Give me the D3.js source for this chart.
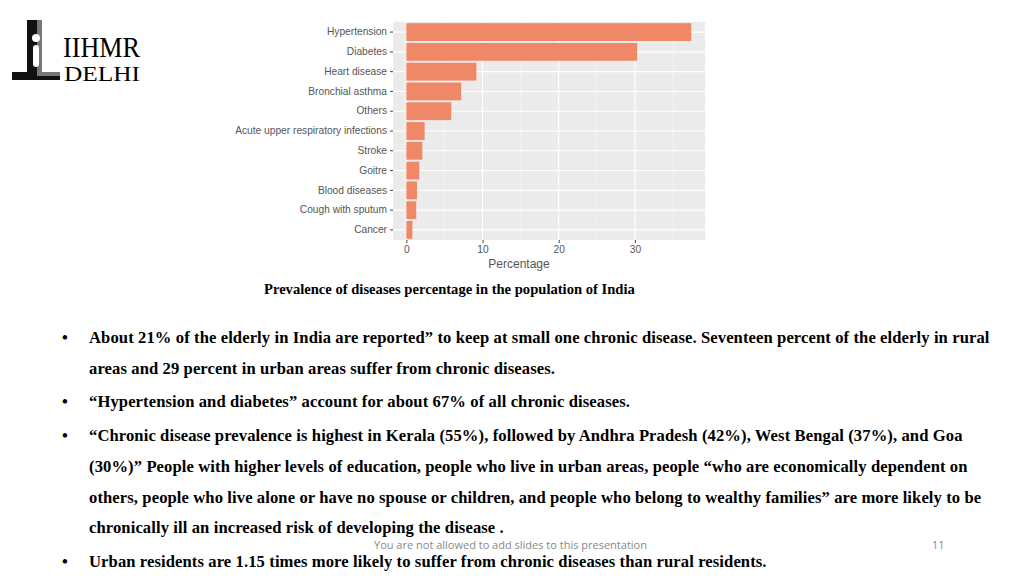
<!DOCTYPE html>
<html><head><meta charset="utf-8">
<script src="https://cdn.jsdelivr.net/npm/d3@7"></script>
<style>
body{margin:0;background:#fff;width:1024px;height:576px;overflow:hidden;position:relative;font-family:"Liberation Serif",serif}
.cap{position:absolute;left:264px;top:281px;font-weight:bold;font-size:14.6px}
ul{position:absolute;left:56px;top:323px;margin:0;padding:0;list-style:none;width:950px;font-weight:bold;font-size:16.6px;line-height:30.7px;letter-spacing:0.1px}
li{position:relative;padding-left:33px;margin-bottom:3px}
li:before{content:"•";position:absolute;left:6px}
li.last{line-height:18px;margin-top:9px}
.foot{position:absolute;left:374px;top:538px;font-family:"Open Sans";font-size:11px;line-height:13px;color:#888}
.num{position:absolute;left:932px;top:538px;font-family:"Open Sans";font-size:11px;line-height:13px;color:#888}
</style></head><body>
<svg id="logo" width="160" height="90" style="position:absolute;left:0;top:10px"></svg>
<svg id="chart" width="1024" height="280" style="position:absolute;left:0;top:0"></svg>
<div class="cap">Prevalence of diseases percentage in the population of India</div>
<ul>
<li>About 21% of the elderly in India are reported” to keep at small one chronic disease. Seventeen percent of the elderly in rural areas and 29 percent in urban areas suffer from chronic diseases.</li>
<li>“Hypertension and diabetes” account for about 67% of all chronic diseases.</li>
<li>“Chronic disease prevalence is highest in Kerala (55%), followed by Andhra Pradesh (42%), West Bengal (37%), and Goa (30%)” People with higher levels of education, people who live in urban areas, people “who are economically dependent on others, people who live alone or have no spouse or children, and people who belong to wealthy families” are more likely to be chronically ill an increased risk of developing the disease .</li>
<li class="last">Urban residents are 1.15 times more likely to suffer from chronic diseases than rural residents.</li>
</ul>
<div class="foot">You are not allowed to add slides to this presentation</div>
<div class="num">11</div>
<script>
const diseases = ["Hypertension","Diabetes","Heart disease","Bronchial asthma","Others","Acute upper respiratory infections","Stroke","Goitre","Blood diseases","Cough with sputum","Cancer"];
const prevalence = [37.4,30.3,9.2,7.2,5.9,2.4,2.1,1.7,1.4,1.3,0.8];
const xTicks = [0,10,20,30];

const svg = d3.select("#chart");
const pLeft = 393, pRight = 705, pTop = 22, pBottom = 240;
const x = d3.scaleLinear().domain([-1.75, 39.2]).range([pLeft, pRight]);
const y = d3.scaleBand().domain(diseases).range([pTop, pBottom]).paddingInner(0.1).paddingOuter(0.06);

svg.append("rect").attr("x", pLeft).attr("y", pTop).attr("width", pRight - pLeft).attr("height", pBottom - pTop).attr("fill", "#ebebeb");
[5,15,25,35].forEach(v => svg.append("line").attr("x1", x(v)).attr("x2", x(v)).attr("y1", pTop).attr("y2", pBottom).attr("stroke", "#f5f5f5").attr("stroke-width", 0.6));
xTicks.forEach(v => svg.append("line").attr("x1", x(v)).attr("x2", x(v)).attr("y1", pTop).attr("y2", pBottom).attr("stroke", "#fff").attr("stroke-width", 1.1));
diseases.forEach(d => svg.append("line").attr("x1", pLeft).attr("x2", pRight).attr("y1", y(d) + y.bandwidth() / 2).attr("y2", y(d) + y.bandwidth() / 2).attr("stroke", "#fff").attr("stroke-width", 1.1));

svg.selectAll(".bar").data(diseases).join("rect").attr("class", "bar")
  .attr("x", x(0)).attr("y", d => y(d))
  .attr("width", (d, i) => x(prevalence[i]) - x(0)).attr("height", y.bandwidth())
  .attr("fill", "#ee8866");

const ya = svg.append("g").attr("transform", `translate(${pLeft},0)`).call(d3.axisLeft(y).tickSize(3).tickPadding(3));
ya.select(".domain").remove();
ya.selectAll("text").attr("font-family", "Liberation Sans").attr("font-size", 10.2).attr("fill", "#555");
ya.selectAll("line").attr("stroke", "#444");
const xa = svg.append("g").attr("transform", `translate(0,${pBottom})`).call(d3.axisBottom(x).tickValues(xTicks).tickSize(3).tickPadding(3));
xa.select(".domain").remove();
xa.selectAll("text").attr("font-family", "Liberation Sans").attr("font-size", 10.2).attr("fill", "#555");
xa.selectAll("line").attr("stroke", "#444");
svg.append("text").attr("x", (pLeft + pRight) / 2 - 30).attr("y", 268).attr("text-anchor", "middle")
  .attr("font-family", "Liberation Sans").attr("font-size", 12).attr("fill", "#555").text("Percentage");

const lg = d3.select("#logo");
lg.append("path").attr("d", "M27 10 H37 V62 H60 V70 H12 V62 H27 Z").attr("fill", "#111");
lg.append("path").attr("d", "M37 10 H42 V62 H60 V66 H37 Z").attr("fill", "#777");
lg.append("ellipse").attr("cx", 36).attr("cy", 28).attr("rx", 4).attr("ry", 4).attr("fill", "#fff");
lg.append("rect").attr("x", 33).attr("y", 35).attr("width", 6).attr("height", 22).attr("rx", 3).attr("fill", "#fff");
lg.append("text").attr("x", 63).attr("y", 47).attr("font-family", "Liberation Serif").attr("font-size", 30).attr("textLength", 77).attr("lengthAdjust", "spacingAndGlyphs").text("IIHMR");
lg.append("text").attr("x", 64).attr("y", 71).attr("font-family", "Liberation Serif").attr("font-size", 22).attr("textLength", 76).attr("lengthAdjust", "spacingAndGlyphs").text("DELHI");
</script>
</body></html>
